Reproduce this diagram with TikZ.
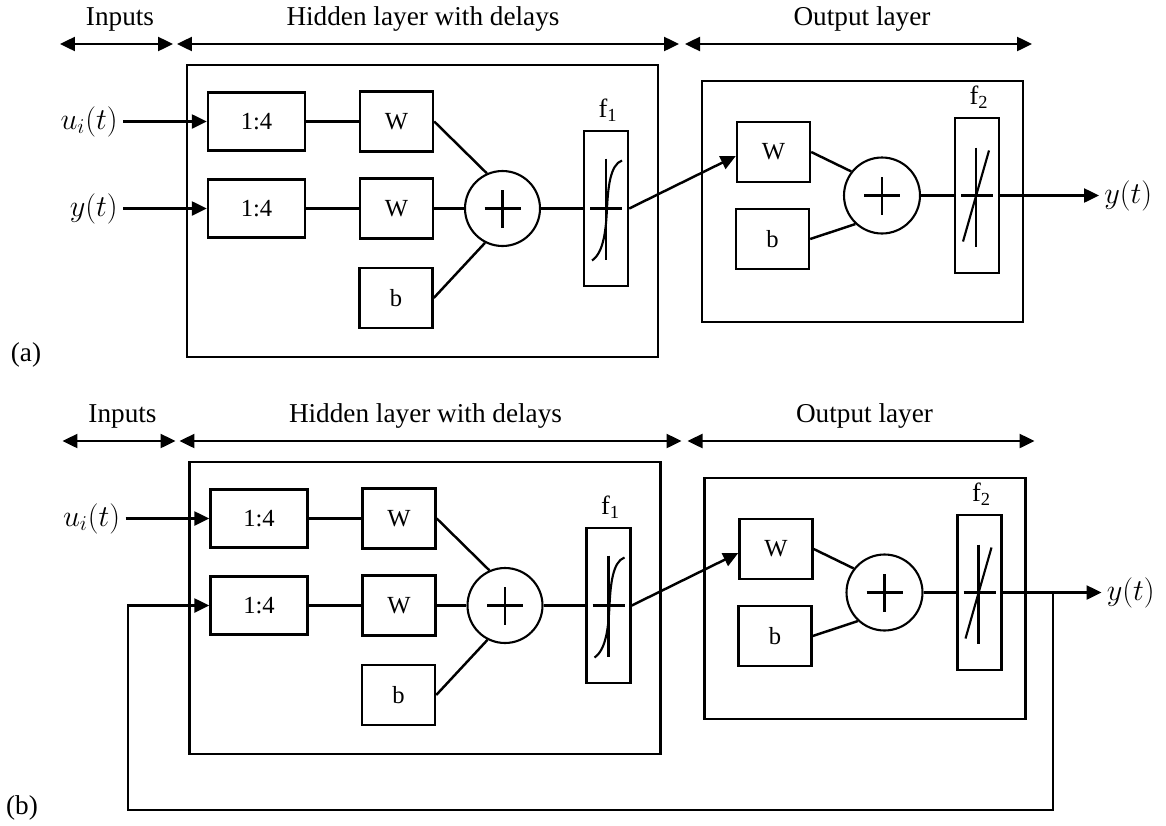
\documentclass[tikz,border=0pt]{standalone}
\usepackage{fontspec}
\setmainfont{Liberation Serif}
\usetikzlibrary{arrows.meta}
\tikzset{
  ln/.style={line width=1.4pt},
  arr/.style={ln, -{Triangle[length=0.3cm,width=0.28cm]}},
  darr/.style={ln, {Triangle[length=0.3cm,width=0.28cm]}-{Triangle[length=0.3cm,width=0.28cm]}},
  blk/.style={draw, line width=1.4pt, inner sep=0pt, font=\fontsize{14}{16}\selectfont},
  delaybox/.style={blk, minimum width=1.94cm, minimum height=1.16cm},
  wbox/.style={blk, minimum width=1.46cm, minimum height=1.2cm},
  actbox/.style={blk, minimum width=0.88cm, minimum height=3.11cm},
  sumnode/.style={draw, circle, line width=1.2pt, minimum size=1.5cm, inner sep=0pt},
  layerbox/.style={draw, line width=1.4pt, inner sep=0pt},
  lbl/.style={font=\fontsize{15.5}{18}\selectfont, inner sep=0pt},
  mlbl/.style={font=\fontsize{16.5}{18}\selectfont, inner sep=0.1cm},
  thin/.style={line width=1.2pt},
}
\newcommand\drawpanel{%
  % header
  \node[lbl, anchor=base] (tIn) at (120,25) {Inputs};
  \node[lbl, anchor=base] (tHid) at (423,25) {Hidden layer with delays};
  \node[lbl, anchor=base] (tOut) at (862,25) {Output layer};
  \coordinate (i1) at (60,44);   \coordinate (i2) at (173,44);
  \coordinate (h1) at (177,44);  \coordinate (h2) at (679,44);
  \coordinate (o1) at (685,44);  \coordinate (o2) at (1032,44);
  \draw[darr] (i1) -- (i2);
  \draw[darr] (h1) -- (h2);
  \draw[darr] (o1) -- (o2);
  % layer frames
  \node[layerbox, minimum width=9.42cm, minimum height=5.84cm] (H) at (422.5,211) {};
  \node[layerbox, minimum width=6.42cm, minimum height=4.82cm] (O) at (862.5,201.5) {};
  % hidden layer
  \node[delaybox] (D1) at (256.5,121.5) {1:4};
  \node[delaybox] (D2) at (256.5,208.5) {1:4};
  \node[wbox] (W1) at (396.5,121.5) {W};
  \node[wbox] (W2) at (396.5,208.5) {W};
  \node[wbox] (B1) at (396,298) {b};
  \node[sumnode] (S1) at (502.5,208.5) {};
  \draw[thin] ([xshift=-0.36cm]S1.center) -- ([xshift=0.36cm]S1.center);
  \draw[thin] ([yshift=-0.38cm]S1.center) -- ([yshift=0.38cm]S1.center);
  \node[actbox] (F1) at (606,208.5) {};
  \node[lbl, font=\fontsize{15}{16}\selectfont] (tF1) at (608,110) {f\textsubscript{1}};
  \begin{scope}[shift={(F1.center)}]
    \draw[thin] (0,-50) -- (0,51);
    \draw[thin] (-16,0) -- (16,0);
    \draw[thin] (-14,52) .. controls (-2,44) and (0,20) .. (1,0) .. controls (2,-20) and (4,-44) .. (16,-48);
  \end{scope}
  \draw[ln] (D1.east) -- (W1.west);
  \draw[ln] (D2.east) -- (W2.west);
  \draw[ln] (W1.east) -- (S1.114);
  \draw[ln] (W2.east) -- (S1.west);
  \draw[ln] (B1.east) -- (S1.243);
  \draw[ln] (S1.east) -- (F1.west);
  % output layer
  \node[wbox] (W3) at (773.5,152) {W};
  \node[wbox] (B2) at (772.5,239) {b};
  \node[sumnode, minimum size=1.52cm] (S2) at (882,195.5) {};
  \draw[thin] ([xshift=-0.36cm]S2.center) -- ([xshift=0.36cm]S2.center);
  \draw[thin] ([yshift=-0.38cm]S2.center) -- ([yshift=0.38cm]S2.center);
  \node[actbox, minimum height=3.1cm] (F2) at (977,195.5) {};
  \node[lbl, font=\fontsize{15}{16}\selectfont] (tF2) at (979,97) {f\textsubscript{2}};
  \begin{scope}[shift={(F2.center)}]
    \draw[thin] (-1,-48) -- (-1,51);
    \draw[thin] (-16,0) -- (16,0);
    \draw[thin] (-14,46) -- (12,-45);
  \end{scope}
  \draw[arr] (F1.east) -- ([yshift=-0.08cm]W3.west);
  \draw[ln] (W3.east) -- (S2.142);
  \draw[ln] (B2.east) -- (S2.227);
  \draw[ln] (S2.east) -- (F2.west);
  % inputs / output
  \node[mlbl, anchor=east] (U) at (123,121.5) {$u_i(t)$};
  \draw[arr] (U.east) -- (D1.west);
  \node[mlbl, anchor=west] (Y) at (1099,195.5) {$y(t)$};
  \draw[arr] (F2.east) -- (Y.west);
}
\begin{document}
\begin{tikzpicture}[x=0.02cm, y=-0.02cm]
  \useasboundingbox (0,0) rectangle (1166,825);
  \begin{scope}[name prefix=a-]
    \drawpanel
    \node[mlbl, anchor=east] (Yin) at (123,208.5) {$y(t)$};
    \draw[arr] (Yin.east) -- (D2.west);
  \end{scope}
  \begin{scope}[shift={(2.5,397)}, name prefix=b-]
    \drawpanel
    \coordinate (J) at (1050.5,195.5);
    \coordinate (fb1) at (1050.5,413);
    \coordinate (fb2) at (125.5,413);
    \draw[arr] (J) -- (fb1) -- (fb2) |- (D2.west);
  \end{scope}
  \node[lbl] (la) at (26,355) {(a)};
  \node[lbl] (lb) at (22,808) {(b)};
\end{tikzpicture}
\end{document}
